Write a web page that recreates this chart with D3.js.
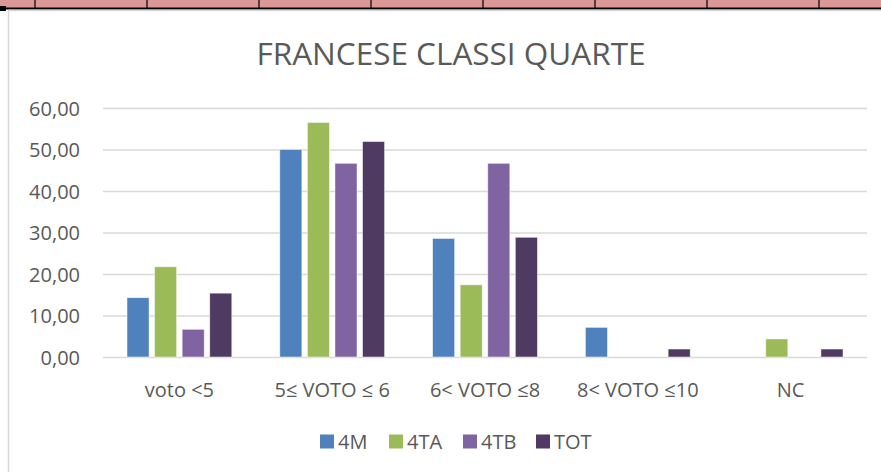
<!DOCTYPE html>
<html>
<head>
<meta charset="utf-8">
<script src="https://cdn.jsdelivr.net/npm/d3@7"></script>
<style>
  body { margin: 0; background: #fff; }
  svg { display: block; font-family: "Open Sans", sans-serif; }
</style>
</head>
<body>
<div id="chart"></div>
<script>
// data
const categories = ["voto <5", "5\u2264 VOTO \u2264 6", "6< VOTO \u22648", "8< VOTO \u226410", "NC"];
const seriesNames = ["4M", "4TA", "4TB", "TOT"];
const vals4M  = [14.29, 50.00, 28.57, 7.14, 0];
const vals4TA = [21.74, 56.52, 17.39, 0, 4.35];
const vals4TB = [6.67, 46.67, 46.67, 0, 0];
const valsTOT = [15.38, 51.92, 28.85, 1.92, 1.92];
const yTicks = [0, 10, 20, 30, 40, 50, 60];

const colors = ["#4f81bd", "#9bbb59", "#8064a2", "#4f3b62"];
const allVals = [vals4M, vals4TA, vals4TB, valsTOT];

const W = 881, H = 472;
const margins = { top: 108, left: 103, right: 14, bottom: 115 };
const plotW = W - margins.left - margins.right;
const plotH = H - margins.top - margins.bottom;

const svg = d3.select("#chart").append("svg")
  .attr("width", W)
  .attr("height", H);

// spreadsheet strip on top
svg.append("rect").attr("x", 0).attr("y", 0).attr("width", W).attr("height", 8).attr("fill", "#dc9797");
const cellLines = [35, 147, 259, 371, 483, 595, 707, 819];
svg.selectAll("line.cell").data(cellLines).enter().append("line")
  .attr("x1", d => d).attr("x2", d => d)
  .attr("y1", 0).attr("y2", 8)
  .attr("stroke", "#000").attr("stroke-width", 1.2);
svg.append("line").attr("x1", 0).attr("x2", W).attr("y1", 8.5).attr("y2", 8.5)
  .attr("stroke", "#000").attr("stroke-width", 2);
svg.append("rect").attr("x", 0).attr("y", 6).attr("width", 6).attr("height", 5).attr("fill", "#000");
// chart border
svg.append("line").attr("x1", 8).attr("x2", W).attr("y1", 10.5).attr("y2", 10.5)
  .attr("stroke", "#d9d9d9").attr("stroke-width", 1.5);
svg.append("line").attr("x1", 8.5).attr("x2", 8.5).attr("y1", 10).attr("y2", H)
  .attr("stroke", "#d9d9d9").attr("stroke-width", 1.5);

// title
svg.append("text")
  .attr("x", 451).attr("y", 64.5)
  .attr("text-anchor", "middle")
  .attr("fill", "#595959")
  .style("font-size", "31.5px")
  .text("FRANCESE CLASSI QUARTE");

const graph = svg.append("g")
  .attr("transform", `translate(${margins.left},${margins.top})`);

const y = d3.scaleLinear().domain([0, 60]).range([plotH, 0]);
const x0 = d3.scaleBand().domain(categories).range([0, plotW]).paddingInner(0).paddingOuter(0);
const x1 = d3.scaleBand().domain(seriesNames).range([24, x0.bandwidth() - 24]).paddingInner(0.2);

// gridlines + y labels
const yAxis = d3.axisLeft(y).tickValues(yTicks).tickSize(-plotW)
  .tickFormat(d => d3.format(".2f")(d).replace(".", ","));
const yg = graph.append("g").call(yAxis);
yg.select(".domain").remove();
yg.selectAll(".tick line").attr("stroke", "#d9d9d9").attr("stroke-width", 1.4);
yg.selectAll(".tick text")
  .attr("x", -23)
  .attr("dy", "0.36em")
  .attr("fill", "#595959")
  .style("font-size", "20px")
  .style("font-family", "'Open Sans', sans-serif");

// bars
const groups = graph.selectAll("g.cat").data(categories).enter().append("g")
  .attr("class", "cat")
  .attr("transform", d => `translate(${x0(d)},0)`);

groups.selectAll("rect")
  .data((d, i) => seriesNames.map((s, j) => ({ s: s, v: allVals[j][i], c: colors[j] })))
  .enter().append("rect")
  .filter(d => d.v > 0)
  .attr("x", d => x1(d.s))
  .attr("width", x1.bandwidth())
  .attr("y", d => y(d.v))
  .attr("height", d => plotH - y(d.v))
  .attr("fill", d => d.c)
  .attr("stroke", "#fff")
  .attr("stroke-opacity", 0.6)
  .attr("stroke-width", 0.8);

// x axis labels
const xAxis = d3.axisBottom(x0).tickSize(0);
const xg = graph.append("g").attr("transform", `translate(0,${plotH})`).call(xAxis);
xg.select(".domain").remove();
xg.selectAll(".tick text")
  .attr("y", 25.5)
  .attr("fill", "#595959")
  .style("font-size", "20px")
  .style("font-family", "'Open Sans', sans-serif");

// legend
const legendX = [320, 389, 463, 536];
const legend = svg.selectAll("g.leg").data(seriesNames).enter().append("g")
  .attr("class", "leg")
  .attr("transform", (d, i) => `translate(${legendX[i]},434.5)`);
legend.append("rect").attr("width", 14).attr("height", 14).attr("fill", (d, i) => colors[i]);
legend.append("text")
  .attr("x", 18).attr("y", 14.5)
  .attr("fill", "#595959")
  .style("font-size", "20px")
  .text(d => d);
</script>
</body>
</html>
